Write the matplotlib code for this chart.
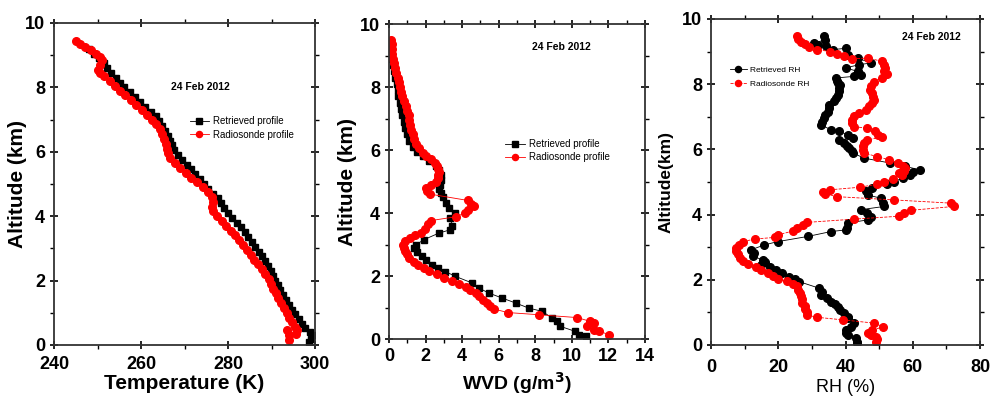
import numpy as np
import matplotlib
matplotlib.use('Agg')
import matplotlib.pyplot as plt
from matplotlib.ticker import MultipleLocator

plt.rcParams['font.family'] = ['Liberation Sans', 'DejaVu Sans']

# ---- temperature profiles (altitude km, temperature K) ----
alt_T_ret = [9.2, 9.05, 8.9, 8.75, 8.6, 8.45, 8.3, 8.15, 8.0, 7.85, 7.7, 7.55, 7.4,
             7.25, 7.1, 6.95, 6.8, 6.65, 6.5, 6.35, 6.2, 6.05, 5.9, 5.75, 5.6, 5.45,
             5.3, 5.15, 5.0, 4.85, 4.7, 4.55, 4.4, 4.25, 4.1, 3.95, 3.8, 3.65, 3.5,
             3.35, 3.2, 3.05, 2.9, 2.75, 2.6, 2.45, 2.3, 2.15, 2.0, 1.85, 1.7, 1.55,
             1.4, 1.25, 1.1, 0.95, 0.8, 0.65, 0.52, 0.4, 0.3, 0.2, 0.1]
T_ret = [248.0, 249.2, 250.4, 251.4, 252.2, 253.2, 254.2, 255.2, 256.2, 257.4, 258.6,
         259.8, 261.0, 262.2, 263.4, 264.2, 264.9, 265.5, 266.1, 266.6, 267.1, 267.6,
         268.4, 269.4, 270.5, 271.5, 272.5, 273.5, 274.4, 275.4, 276.5, 277.6, 278.3,
         279.0, 280.0, 281.0, 282.0, 282.9, 283.8, 284.7, 285.5, 286.3, 287.1, 287.8,
         288.6, 289.2, 289.8, 290.4, 290.9, 291.4, 292.0, 292.6, 293.3, 294.0, 294.8,
         295.5, 296.3, 297.0, 297.6, 298.8, 299.5, 299.0, 298.6]

alt_T_rs = [9.45, 9.35, 9.25, 9.15, 9.05, 8.95, 8.85, 8.7, 8.55, 8.45, 8.35, 8.2, 8.05,
            7.9, 7.75, 7.6, 7.45, 7.3, 7.15, 7.0, 6.85, 6.7, 6.55, 6.4, 6.25, 6.1,
            5.95, 5.8, 5.65, 5.5, 5.35, 5.2, 5.05, 4.9, 4.75, 4.6, 4.45, 4.3, 4.15,
            4.0, 3.85, 3.7, 3.55, 3.4, 3.25, 3.1, 2.95, 2.8, 2.65, 2.5, 2.35, 2.2,
            2.05, 1.9, 1.75, 1.6, 1.45, 1.3, 1.15, 1.0, 0.85, 0.7, 0.57, 0.45, 0.35,
            0.47, 0.3, 0.16]
T_rs = [245.0, 246.0, 247.2, 248.5, 249.6, 250.5, 251.0, 250.6, 250.2, 250.6, 251.6,
        252.8, 254.0, 255.2, 256.4, 257.6, 258.8, 260.2, 261.4, 262.6, 263.5, 264.3,
        264.8, 265.3, 265.7, 266.0, 266.3, 266.7, 267.8, 269.0, 270.4, 271.6, 272.8,
        274.2, 275.4, 276.3, 276.6, 276.4, 276.5, 277.4, 278.6, 279.6, 280.6, 281.6,
        282.6, 283.5, 284.4, 285.2, 286.0, 286.9, 287.8, 288.6, 289.4, 289.9, 290.4,
        291.0, 291.6, 292.2, 292.9, 293.5, 294.1, 294.7, 295.3, 295.8, 295.6,
        293.6, 293.9, 293.9]

# ---- water vapour density (altitude km, g/m3) ----
alt_W_ret = [9.3, 9.1, 8.9, 8.7, 8.5, 8.3, 8.1, 7.9, 7.7, 7.5, 7.3, 7.1, 6.9, 6.7, 6.5,
             6.3, 6.1, 5.95, 5.8, 5.65, 5.5, 5.35, 5.2, 5.05, 4.9, 4.75, 4.63, 4.5,
             4.31, 4.15, 4.0, 3.84, 3.6, 3.47, 3.36, 3.15, 3.0, 2.89, 2.75, 2.62,
             2.5, 2.36, 2.25, 2.14, 1.99, 1.78, 1.62, 1.46, 1.3, 1.14, 0.98, 0.88,
             0.67, 0.56, 0.4, 0.24, 0.14, 0.08]
W_ret = [0.1, 0.12, 0.15, 0.2, 0.28, 0.35, 0.42, 0.47, 0.52, 0.58, 0.65, 0.72, 0.8,
         0.88, 0.98, 1.1, 1.3, 1.55, 1.85, 2.2, 2.55, 2.75, 2.82, 2.85, 2.78, 2.75,
         2.82, 2.95, 3.1, 3.27, 3.6, 3.36, 3.45, 3.36, 2.72, 1.9, 1.5, 1.35, 1.55,
         1.81, 2.05, 2.36, 2.7, 3.09, 3.63, 4.54, 4.91, 5.46, 6.19, 6.94, 7.65, 8.37,
         8.92, 9.2, 9.38, 10.2, 10.38, 10.77]

alt_W_rs = [9.5, 9.35, 9.2, 9.05, 8.9, 8.75, 8.6, 8.45, 8.3, 8.15, 8.0, 7.85, 7.7,
            7.55, 7.4, 7.25, 7.1, 6.95, 6.8, 6.65, 6.5, 6.35, 6.2, 6.05, 5.9, 5.8,
            5.7, 5.6, 5.5, 5.4, 5.3, 5.2, 5.1, 5.0, 4.9, 4.8, 4.7, 4.6, 4.4, 4.3,
            4.22, 4.1, 4.0, 3.88, 3.76, 3.65, 3.5, 3.37, 3.3, 3.22, 3.1, 3.0, 2.9,
            2.8, 2.7, 2.58, 2.45, 2.35, 2.25, 2.15, 2.05, 1.95, 1.85, 1.75, 1.65,
            1.55, 1.45, 1.35, 1.25, 1.15, 1.05, 0.95, 0.84, 0.77, 0.68, 0.56, 0.5,
            0.4, 0.3, 0.24, 0.14]
W_rs = [0.12, 0.14, 0.16, 0.19, 0.22, 0.27, 0.33, 0.4, 0.47, 0.53, 0.59, 0.66, 0.73,
        0.82, 0.92, 1.0, 1.07, 1.12, 1.17, 1.23, 1.3, 1.38, 1.48, 1.62, 1.85, 2.05,
        2.3, 2.5, 2.62, 2.7, 2.72, 2.7, 2.66, 2.55, 2.3, 2.05, 2.1, 2.25, 4.3, 4.5,
        4.65, 4.3, 4.15, 3.65, 2.3, 2.15, 1.95, 1.75, 1.45, 1.15, 0.85, 0.78, 0.8,
        0.88, 0.98, 1.1, 1.35, 1.6, 1.9, 2.2, 2.6, 3.0, 3.45, 3.85, 4.2, 4.45, 4.75,
        4.95, 5.15, 5.35, 5.55, 5.75, 6.5, 8.2, 10.3, 11.0, 11.2, 10.85, 11.2, 11.5,
        12.05]

# ---- relative humidity (altitude km, %) ----
alt_RH_ret = [9.47, 9.36, 9.26, 9.21, 9.16, 9.06, 9.1, 8.9, 8.8, 8.65, 8.6, 8.5, 8.39,
              8.29, 8.24, 8.19, 8.1, 8.04, 7.96, 7.88, 7.78, 7.68, 7.58, 7.47, 7.37,
              7.27, 7.16, 7.06, 6.96, 6.85, 6.75, 6.6, 6.55, 6.45, 6.35, 6.29, 6.19,
              6.1, 6.04, 5.95, 5.89, 5.73, 5.58, 5.48, 5.37, 5.3, 5.22, 5.12, 5.01,
              4.93, 4.8, 4.71, 4.6, 4.5, 4.35, 4.25, 4.15, 4.04, 3.94, 3.84, 3.74,
              3.6, 3.53, 3.48, 3.33, 3.17, 3.07, 2.92, 2.82, 2.72, 2.61, 2.53, 2.46,
              2.38, 2.3, 2.2, 2.1, 2.02, 1.94, 1.74, 1.64, 1.54, 1.43, 1.33, 1.26,
              1.18, 1.08, 0.97, 0.87, 0.82, 0.67, 0.56, 0.46, 0.36, 0.31, 0.2, 0.1,
              0.05]
RH_ret = [33.7, 34.0, 30.5, 31.7, 34.2, 36.2, 40.1, 40.6, 43.6, 47.6, 44.1, 40.1, 43.6,
          44.6, 42.6, 37.2, 37.5, 37.7, 38.5, 38.2, 38.0, 37.7, 37.2, 36.7, 35.2, 35.0,
          34.7, 34.0, 33.7, 33.0, 32.7, 35.7, 38.2, 40.6, 42.1, 38.2, 39.6, 40.5, 41.1,
          41.8, 42.1, 45.6, 53.3, 57.7, 62.2, 60.2, 59.2, 57.1, 54.3, 52.3, 48.0, 46.1,
          46.6, 50.6, 51.0, 51.5, 44.6, 46.3, 47.6, 46.8, 40.6, 40.3, 40.1, 35.7, 28.8,
          19.8, 15.9, 11.9, 12.9, 12.5, 15.4, 16.0, 14.9, 17.5, 19.3, 21.0, 23.3, 25.0,
          26.3, 32.2, 33.0, 32.7, 34.4, 35.7, 36.8, 37.7, 38.5, 39.6, 40.6, 40.6, 42.6,
          41.5, 40.1, 40.0, 40.6, 43.1, 43.3, 43.5]

alt_RH_rs = [9.47, 9.38, 9.3, 9.22, 9.15, 9.06, 9.0, 8.92, 8.85, 8.78, 8.8, 8.7, 8.6,
             8.5, 8.4, 8.3, 8.2, 8.08, 7.95, 7.83, 7.72, 7.62, 7.52, 7.42, 7.32, 7.22,
             7.12, 7.02, 6.91, 6.8, 6.7, 6.65, 6.55, 6.45, 6.38, 6.29, 6.19, 6.09,
             5.99, 5.89, 5.78, 5.68, 5.58, 5.5, 5.42, 5.35, 5.28, 5.22, 5.1, 5.01,
             4.93, 4.84, 4.76, 4.7, 4.64, 4.55, 4.45, 4.35, 4.25, 4.13, 4.05, 3.95,
             3.86, 3.76, 3.68, 3.58, 3.5, 3.38, 3.3, 3.25, 3.17, 3.08, 2.98, 2.88,
             2.78, 2.68, 2.58, 2.48, 2.38, 2.3, 2.2, 2.12, 2.03, 1.95, 1.87, 1.8, 1.7,
             1.6, 1.5, 1.4, 1.3, 1.2, 1.1, 1.0, 0.92, 0.85, 0.77, 0.67, 0.56, 0.45,
             0.36, 0.3, 0.26, 0.18, 0.1]
RH_rs = [25.5, 26.0, 26.8, 27.8, 29.0, 31.5, 35.5, 37.5, 39.5, 42.0, 46.8, 50.8, 51.5,
         51.8, 51.3, 52.3, 50.8, 48.5, 47.5, 47.3, 47.8, 48.3, 48.5, 48.0, 47.0, 46.0,
         44.0, 42.5, 41.9, 42.0, 42.4, 46.3, 48.8, 49.8, 50.8, 46.5, 45.5, 45.3, 45.3,
         45.5, 49.3, 53.0, 55.7, 57.0, 57.7, 57.5, 56.0, 56.7, 54.0, 51.3, 49.3, 44.4,
         35.4, 33.4, 34.0, 37.4, 54.3, 71.5, 72.3, 59.4, 57.5, 56.0, 42.5, 28.5, 27.5,
         25.5, 24.5, 20.0, 19.0, 13.0, 9.5, 8.2, 7.5, 7.5, 8.0, 8.6, 9.5, 11.0, 13.5,
         14.8, 17.0, 18.5, 19.8, 22.5, 24.5, 25.5, 26.0, 26.5, 26.8, 27.0, 27.2, 27.8,
         28.0, 28.5, 28.5, 31.5, 39.2, 48.6, 51.1, 48.0, 46.6, 47.5, 49.1, 49.5, 49.1]

date_text = '24 Feb 2012'

fig = plt.figure(figsize=(9.91, 4.01), dpi=100)
ax1 = fig.add_axes([0.0545, 0.1397, 0.2634, 0.803])
ax2 = fig.add_axes([0.3925, 0.1546, 0.2583, 0.7855])
ax3 = fig.add_axes([0.7175, 0.1397, 0.2714, 0.813])


def style_axis(ax, xmaj, xmin, tick_size=13, xpad=3.5):
    ax.xaxis.set_major_locator(MultipleLocator(xmaj))
    ax.xaxis.set_minor_locator(MultipleLocator(xmin))
    ax.yaxis.set_major_locator(MultipleLocator(2))
    ax.yaxis.set_minor_locator(MultipleLocator(1))
    ax.tick_params(which='major', direction='inout', length=6, width=1.2,
                   top=True, right=True, labelsize=tick_size)
    ax.tick_params(axis='x', which='major', pad=xpad)
    ax.tick_params(which='minor', direction='out', length=3, width=1.0,
                   top=True, right=True)
    for lab in ax.get_xticklabels() + ax.get_yticklabels():
        lab.set_fontweight('bold')
    for sp in ax.spines.values():
        sp.set_linewidth(1.3)
        sp.set_color('#333333')


leg_kw = dict(loc='upper left', frameon=False, handlelength=2.0,
              handletextpad=0.4, markerscale=0.8, borderaxespad=0, borderpad=0)

# panel 1: temperature
ax1.plot(T_ret, alt_T_ret, '-s', color='black', ms=5, lw=0.6, label='Retrieved profile')
ax1.plot(T_rs, alt_T_rs, '-o', color='red', ms=5.5, lw=0.6, label='Radiosonde profile')
ax1.set_xlim(240, 300)
ax1.set_ylim(0, 10)
style_axis(ax1, 20, 10, xpad=5)
ax1.set_xlabel('Temperature (K)', fontsize=15, fontweight='bold')
ax1.set_ylabel('Altitude (km)', fontsize=15, fontweight='bold')
ax1.xaxis.set_label_coords(0.5, -0.09)
ax1.yaxis.set_label_coords(-0.105, 0.5)
ax1.text(0.56, 0.80, date_text, transform=ax1.transAxes, fontsize=7.5,
         fontweight='bold', ha='center', va='center')
ax1.legend(bbox_to_anchor=(0.52, 0.71), fontsize=7, labelspacing=0.35, **leg_kw)

# panel 2: water vapour density
ax2.plot(W_ret, alt_W_ret, '-s', color='black', ms=5, lw=0.6, label='Retrieved profile')
ax2.plot(W_rs, alt_W_rs, '-o', color='red', ms=5.5, lw=0.6, label='Radiosonde profile')
ax2.set_xlim(0, 14)
ax2.set_ylim(0, 10)
style_axis(ax2, 2, 1)
ax2.set_xlabel('WVD (g/m$^\\mathbf{3}$)', fontsize=14, fontweight='bold')
ax2.set_ylabel('Altitude (km)', fontsize=15, fontweight='bold')
ax2.xaxis.set_label_coords(0.5, -0.1)
ax2.yaxis.set_label_coords(-0.125, 0.5)
ax2.text(0.672, 0.927, date_text, transform=ax2.transAxes, fontsize=7.5,
         fontweight='bold', ha='center', va='center')
ax2.legend(bbox_to_anchor=(0.455, 0.635), fontsize=7, labelspacing=0.3, **leg_kw)

# panel 3: relative humidity
ax3.plot(RH_ret, alt_RH_ret, '-o', color='black', ms=5.5, lw=0.6, label='Retrieved RH')
ax3.plot(RH_rs, alt_RH_rs, '--o', color='red', ms=5.5, lw=0.6, label='Radiosonde RH')
ax3.set_xlim(0, 80)
ax3.set_ylim(0, 10)
style_axis(ax3, 20, 10, xpad=7)
ax3.set_xlabel('RH (%)', fontsize=13)
ax3.set_ylabel('Altitude(km)', fontsize=12.5, fontweight='bold')
ax3.xaxis.set_label_coords(0.5, -0.105)
ax3.yaxis.set_label_coords(-0.138, 0.5)
ax3.text(0.82, 0.945, date_text, transform=ax3.transAxes, fontsize=7.5,
         fontweight='bold', ha='center', va='center')
ax3.legend(bbox_to_anchor=(0.07, 0.855), fontsize=6, labelspacing=0.75, **leg_kw)

fig.savefig('out.png', dpi=100)
